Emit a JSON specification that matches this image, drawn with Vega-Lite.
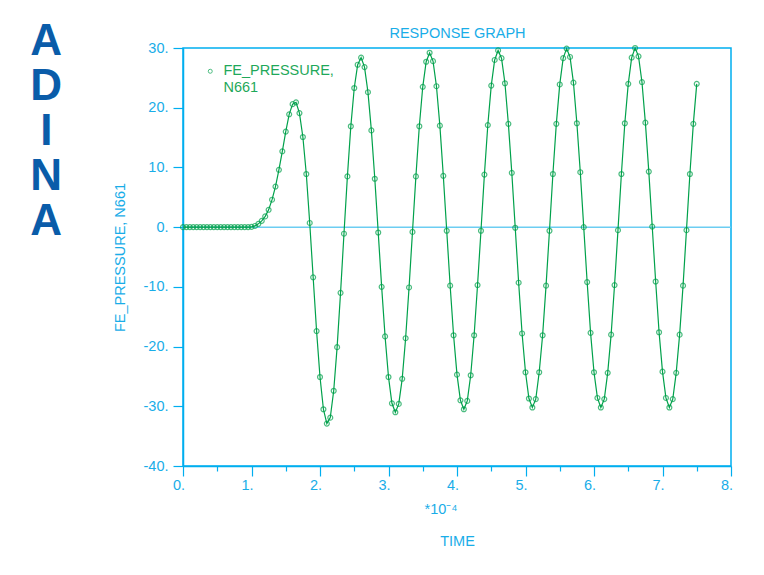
{
  "$schema": "https://vega.github.io/schema/vega-lite/v6.json",
  "width": 548,
  "height": 418,
  "autosize": {"type": "none"},
  "padding": {"left": 183, "top": 48, "right": 33, "bottom": 109},
  "background": "white",
  "title": {
    "text": ["A", "D", "I", "N", "A"],
    "orient": "left",
    "angle": 0,
    "anchor": "end",
    "align": "center",
    "baseline": "top",
    "font": "Liberation Sans",
    "fontSize": 44,
    "fontWeight": "bold",
    "lineHeight": 45,
    "color": "#0a5ca9",
    "offset": 34,
    "dy": -5
  },
  "data": {
    "values": [
      {"t": 0, "p": 0}, {"t": 0.05, "p": 0}, {"t": 0.1, "p": 0}, {"t": 0.15, "p": 0}, {"t": 0.2, "p": 0},
      {"t": 0.25, "p": 0}, {"t": 0.3, "p": 0}, {"t": 0.35, "p": 0}, {"t": 0.4, "p": 0}, {"t": 0.45, "p": 0},
      {"t": 0.5, "p": 0}, {"t": 0.55, "p": 0}, {"t": 0.6, "p": 0}, {"t": 0.65, "p": 0}, {"t": 0.7, "p": 0},
      {"t": 0.75, "p": 0}, {"t": 0.8, "p": 0}, {"t": 0.85, "p": 0}, {"t": 0.9, "p": 0}, {"t": 0.95, "p": 0.01},
      {"t": 1.0, "p": 0.05}, {"t": 1.05, "p": 0.2}, {"t": 1.1, "p": 0.55}, {"t": 1.15, "p": 1.05}, {"t": 1.2, "p": 1.8},
      {"t": 1.25, "p": 2.9}, {"t": 1.3, "p": 4.6}, {"t": 1.35, "p": 6.8}, {"t": 1.4, "p": 9.6}, {"t": 1.45, "p": 12.7},
      {"t": 1.5, "p": 16.0}, {"t": 1.55, "p": 18.9}, {"t": 1.6, "p": 20.6}, {"t": 1.65, "p": 20.9}, {"t": 1.7, "p": 19.1},
      {"t": 1.75, "p": 15.1}, {"t": 1.8, "p": 8.9}, {"t": 1.85, "p": 0.7}, {"t": 1.9, "p": -8.4}, {"t": 1.95, "p": -17.4},
      {"t": 2.0, "p": -25.1}, {"t": 2.05, "p": -30.5}, {"t": 2.1, "p": -32.9}, {"t": 2.15, "p": -31.9}, {"t": 2.2, "p": -27.4},
      {"t": 2.25, "p": -20.1}, {"t": 2.3, "p": -11.0}, {"t": 2.35, "p": -1.1}, {"t": 2.4, "p": 8.5}, {"t": 2.45, "p": 16.9},
      {"t": 2.5, "p": 23.3}, {"t": 2.55, "p": 27.2}, {"t": 2.6, "p": 28.4}, {"t": 2.65, "p": 26.8}, {"t": 2.7, "p": 22.6},
      {"t": 2.75, "p": 16.2}, {"t": 2.8, "p": 8.1}, {"t": 2.85, "p": -0.9}, {"t": 2.9, "p": -10.0}, {"t": 2.95, "p": -18.3},
      {"t": 3.0, "p": -25.1}, {"t": 3.05, "p": -29.5}, {"t": 3.1, "p": -31.0}, {"t": 3.15, "p": -29.6}, {"t": 3.2, "p": -25.4},
      {"t": 3.25, "p": -18.6}, {"t": 3.3, "p": -10.1}, {"t": 3.35, "p": -0.8}, {"t": 3.4, "p": 8.5}, {"t": 3.45, "p": 16.9},
      {"t": 3.5, "p": 23.5}, {"t": 3.55, "p": 27.7}, {"t": 3.6, "p": 29.2}, {"t": 3.65, "p": 27.8}, {"t": 3.7, "p": 23.6},
      {"t": 3.75, "p": 17.0}, {"t": 3.8, "p": 8.6}, {"t": 3.85, "p": -0.6}, {"t": 3.9, "p": -9.8}, {"t": 3.95, "p": -18.1},
      {"t": 4.0, "p": -24.7}, {"t": 4.05, "p": -29.0}, {"t": 4.1, "p": -30.5}, {"t": 4.15, "p": -29.1}, {"t": 4.2, "p": -24.8},
      {"t": 4.25, "p": -18.1}, {"t": 4.3, "p": -9.7}, {"t": 4.35, "p": -0.6}, {"t": 4.4, "p": 8.8}, {"t": 4.45, "p": 17.1},
      {"t": 4.5, "p": 23.7}, {"t": 4.55, "p": 28.0}, {"t": 4.6, "p": 29.6}, {"t": 4.65, "p": 28.3}, {"t": 4.7, "p": 24.1},
      {"t": 4.75, "p": 17.3}, {"t": 4.8, "p": 9.1}, {"t": 4.85, "p": -0.1}, {"t": 4.9, "p": -9.3}, {"t": 4.95, "p": -17.8},
      {"t": 5.0, "p": -24.3}, {"t": 5.05, "p": -28.7}, {"t": 5.1, "p": -30.2}, {"t": 5.15, "p": -28.8}, {"t": 5.2, "p": -24.3},
      {"t": 5.25, "p": -18.1}, {"t": 5.3, "p": -9.8}, {"t": 5.35, "p": -0.6}, {"t": 5.4, "p": 8.9}, {"t": 5.45, "p": 17.3},
      {"t": 5.5, "p": 23.9}, {"t": 5.55, "p": 28.3}, {"t": 5.6, "p": 29.9}, {"t": 5.65, "p": 28.5}, {"t": 5.7, "p": 24.2},
      {"t": 5.75, "p": 17.4}, {"t": 5.8, "p": 9.2}, {"t": 5.85, "p": 0.0}, {"t": 5.9, "p": -9.2}, {"t": 5.95, "p": -17.7},
      {"t": 6.0, "p": -24.3}, {"t": 6.05, "p": -28.6}, {"t": 6.1, "p": -30.2}, {"t": 6.15, "p": -28.8}, {"t": 6.2, "p": -24.4},
      {"t": 6.25, "p": -18.0}, {"t": 6.3, "p": -9.7}, {"t": 6.35, "p": -0.5}, {"t": 6.4, "p": 8.9}, {"t": 6.45, "p": 17.4},
      {"t": 6.5, "p": 24.0}, {"t": 6.55, "p": 28.4}, {"t": 6.6, "p": 30.0}, {"t": 6.65, "p": 28.6}, {"t": 6.7, "p": 24.3},
      {"t": 6.75, "p": 17.5}, {"t": 6.8, "p": 9.3}, {"t": 6.85, "p": 0.1}, {"t": 6.9, "p": -9.1}, {"t": 6.95, "p": -17.6},
      {"t": 7.0, "p": -24.2}, {"t": 7.05, "p": -28.6}, {"t": 7.1, "p": -30.2}, {"t": 7.15, "p": -28.8}, {"t": 7.2, "p": -24.4},
      {"t": 7.25, "p": -18.0}, {"t": 7.3, "p": -9.8}, {"t": 7.35, "p": -0.5}, {"t": 7.4, "p": 8.9}, {"t": 7.45, "p": 17.3},
      {"t": 7.5, "p": 24.0}
    ]
  },
  "layer": [
    {
      "data": {"values": [{"p": 0}]},
      "mark": {"type": "rule", "color": "#6ccdf2", "strokeWidth": 1.5},
      "encoding": {
        "y": {"field": "p", "type": "quantitative"},
        "x": {
          "datum": 0,
          "type": "quantitative",
          "axis": {
            "orient": "bottom",
            "title": "TIME",
            "labels": false,
            "ticks": false,
            "domain": false,
            "grid": false,
            "titlePadding": 68
          }
        },
        "x2": {"datum": 8}
      }
    },
    {
      "mark": {"type": "line", "strokeWidth": 1.2},
      "encoding": {
        "x": {
          "field": "t",
          "type": "quantitative",
          "scale": {"domain": [0, 8], "nice": false, "zero": false},
          "axis": {
            "orient": "bottom",
            "values": [0, 0.5, 1, 1.5, 2, 2.5, 3, 3.5, 4, 4.5, 5, 5.5, 6, 6.5, 7, 7.5, 8],
            "labelExpr": "datum.value % 1 === 0 ? datum.value + '.' : ''",
            "tickSize": {"condition": {"test": "datum.value % 1 === 0", "value": 10}, "value": 5},
            "labelPadding": 2,
            "labelAlign": "right",
            "labelOffset": 1.5,
            "labelFlush": false,
            "labelOverlap": false,
            "labelBound": false,
            "grid": false,
            "title": "*10\u207b\u2074",
            "titleAlign": "right",
            "titleAnchor": "middle",
            "titlePadding": 11
          }
        },
        "y": {
          "field": "p",
          "type": "quantitative",
          "scale": {"domain": [-40, 30], "nice": false},
          "axis": {
            "values": [-40, -30, -20, -10, 0, 10, 20, 30],
            "labelExpr": "datum.value + '.'",
            "tickSize": 10,
            "labelPadding": 5,
            "grid": false,
            "title": "FE_PRESSURE, N661",
            "titlePadding": 16
          }
        },
        "color": {
          "datum": "FE_PRESSURE, N661",
          "type": "nominal",
          "scale": {"range": ["#00a14b"]},
          "legend": {
            "orient": "none",
            "legendX": 20,
            "legendY": 16,
            "title": null,
            "labelExpr": "split(datum.label, ' ')",
            "labelFontSize": 14.5,
            "labelFont": "Liberation Sans",
            "labelColor": "#1fa85a",
            "labelBaseline": "middle",
            "labelOffset": 6,
            "labelLimit": 400,
            "symbolType": "circle",
            "symbolSize": 16,
            "symbolFillColor": "#00a14b",
            "symbolStrokeColor": "#00a14b",
            "symbolStrokeWidth": 1
          }
        }
      }
    },
    {
      "mark": {"type": "point", "filled": false, "size": 24, "strokeWidth": 1.2},
      "encoding": {
        "x": {
          "field": "t",
          "type": "quantitative",
          "axis": {
            "orient": "top",
            "title": "RESPONSE GRAPH",
            "labels": false,
            "ticks": false,
            "domain": false,
            "grid": false,
            "titlePadding": 8
          }
        },
        "y": {"field": "p", "type": "quantitative"},
        "color": {"datum": "FE_PRESSURE, N661", "type": "nominal"}
      }
    }
  ],
  "resolve": {"axis": {"x": "independent"}},
  "config": {
    "font": "Liberation Sans",
    "view": {"stroke": "#00aeef", "strokeWidth": 1.5},
    "axis": {
      "domainColor": "#00aeef",
      "domainWidth": 1.5,
      "tickColor": "#00aeef",
      "tickWidth": 1.2,
      "labelColor": "#19ade8",
      "labelFont": "Liberation Sans",
      "labelFontSize": 14.5,
      "titleColor": "#19ade8",
      "titleFont": "Liberation Sans",
      "titleFontSize": 14.5,
      "titleFontWeight": "normal"
    }
  }
}
